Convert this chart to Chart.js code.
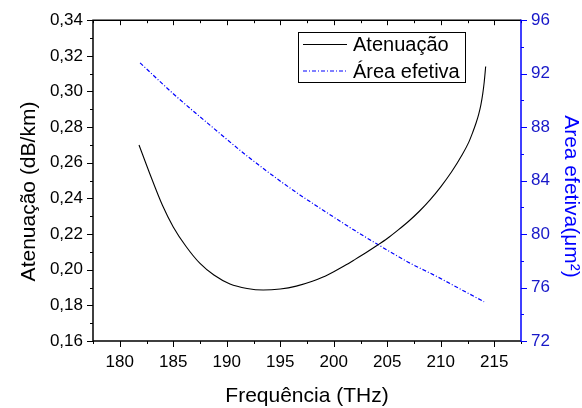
<!DOCTYPE html>
<html>
<head>
<meta charset="utf-8">
<script src="https://cdn.jsdelivr.net/npm/chart.js@4/dist/chart.umd.min.js"></script>
<style>
  html, body { margin: 0; padding: 0; background: #fff; }
  #wrap { width: 582px; height: 408px; }
</style>
</head>
<body>
<div id="wrap"><canvas id="c" width="582" height="408"></canvas></div>
<script>
// ---- data ----
const attFreq = [181.8, 182.8, 184.0, 185.0, 186.2, 187.5, 188.8, 190.3, 191.9, 193.4, 195.0, 196.5, 198.0, 199.0, 200.0, 201.0, 202.0, 203.0, 204.0, 205.0, 206.0, 207.0, 208.0, 209.0, 210.0, 211.0, 212.0, 212.6, 213.0, 213.3, 213.55, 213.75, 213.92, 214.06, 214.2];
const attValues = [0.2700, 0.2540, 0.2360, 0.2240, 0.2130, 0.2035, 0.1970, 0.1920, 0.1895, 0.1886, 0.1892, 0.1908, 0.1935, 0.1959, 0.1989, 0.2022, 0.2058, 0.2095, 0.2134, 0.2175, 0.2222, 0.2272, 0.2328, 0.2392, 0.2465, 0.2548, 0.2645, 0.2713, 0.2773, 0.2823, 0.2873, 0.2925, 0.2985, 0.3052, 0.3140];
const areaFreq = [181.9, 185.0, 188.8, 192.0, 195.95, 198.75, 201.5, 204.2, 207.0, 209.67, 212.0, 214.05];
const areaValues = [92.81, 90.50, 87.90, 85.78, 83.42, 81.92, 80.50, 79.18, 77.88, 76.81, 75.81, 74.94];

const xTickValues = [180, 185, 190, 195, 200, 205, 210, 215];
const attTickValues = [0.16, 0.18, 0.20, 0.22, 0.24, 0.26, 0.28, 0.30, 0.32, 0.34];
const areaTickValues = [72, 76, 80, 84, 88, 92, 96];

const seriesNames = ['Atenuação', 'Área efetiva'];
const axisTitles = { x: 'Frequência (THz)', left: 'Atenuação (dB/km)', right: 'Area efetiva(μm²)' };

const FONT = 'Liberation Sans, Arial, sans-serif';
const BLUE = '#0000ff';
const BLUE_LABEL = '#1818c8';
const DASH = [4, 2, 1, 2];

const attData = attFreq.map((f, i) => ({ x: f, y: attValues[i] }));
const areaData = areaFreq.map((f, i) => ({ x: f, y: areaValues[i] }));

const decor = {
  id: 'decor',
  afterDraw(chart) {
    const ctx = chart.ctx;
    const { left, right, top, bottom } = chart.chartArea;
    const sx = chart.scales.x, sy = chart.scales.y, sy1 = chart.scales.y1;
    ctx.save();
    ctx.lineWidth = 1;
    // x ticks (bottom outward, top inward)
    ctx.strokeStyle = '#000';
    ctx.beginPath();
    for (let k = 0; k <= 16; k++) {
      const v = sx.min + k * 2.5;
      const px = Math.round(sx.getPixelForValue(v)) + 0.5;
      const major = Math.abs((v / 5) - Math.round(v / 5)) < 1e-6;
      const len = major ? 6 : 3;
      ctx.moveTo(px, bottom); ctx.lineTo(px, bottom + len);
      ctx.moveTo(px, top); ctx.lineTo(px, top + (major ? 5 : 3));
    }
    // left ticks
    for (let k = 0; k <= 18; k++) {
      const v = sy.min + k * 0.01;
      const py = Math.round(sy.getPixelForValue(v)) + 0.5;
      const len = (k % 2 === 0) ? 6 : 3;
      ctx.moveTo(left, py); ctx.lineTo(left - len, py);
    }
    ctx.stroke();
    // right ticks
    ctx.strokeStyle = BLUE;
    ctx.beginPath();
    for (let k = 0; k <= 12; k++) {
      const v = sy1.min + k * 2;
      const py = Math.round(sy1.getPixelForValue(v)) + 0.5;
      const len = (k % 2 === 0) ? 6 : 3;
      ctx.moveTo(right, py); ctx.lineTo(right + len, py);
    }
    ctx.stroke();
    // frame
    ctx.lineWidth = 1.5;
    ctx.strokeStyle = '#000';
    ctx.beginPath();
    ctx.moveTo(right, top); ctx.lineTo(left, top); ctx.lineTo(left, bottom); ctx.lineTo(right, bottom);
    ctx.stroke();
    ctx.strokeStyle = BLUE;
    ctx.beginPath();
    ctx.moveTo(right, top - 0.75); ctx.lineTo(right, bottom + 0.75);
    ctx.stroke();

    // axis titles
    ctx.font = '21px ' + FONT;
    ctx.textBaseline = 'alphabetic';
    ctx.textAlign = 'center';
    ctx.fillStyle = '#000';
    ctx.fillText(axisTitles.x, (left + right) / 2, 401.5);
    ctx.save();
    ctx.translate(35, 191.5);
    ctx.rotate(-Math.PI / 2);
    ctx.fillText(axisTitles.left, 0, 0);
    ctx.restore();
    ctx.save();
    ctx.fillStyle = BLUE;
    ctx.translate(565, 196.5);
    ctx.rotate(Math.PI / 2);
    ctx.fillText(axisTitles.right, 0, 0);
    ctx.restore();

    // legend
    ctx.lineWidth = 1;
    ctx.strokeStyle = '#000';
    ctx.strokeRect(298.5, 32.5, 167, 50);
    ctx.lineWidth = 1.2;
    ctx.beginPath();
    ctx.moveTo(303, 44.5); ctx.lineTo(347, 44.5);
    ctx.stroke();
    ctx.strokeStyle = BLUE;
    ctx.setLineDash(DASH);
    ctx.beginPath();
    ctx.moveTo(303, 71); ctx.lineTo(347, 71);
    ctx.stroke();
    ctx.setLineDash([]);
    ctx.font = '20px ' + FONT;
    ctx.textAlign = 'left';
    ctx.fillStyle = '#000';
    ctx.fillText(seriesNames[0], 353, 51);
    ctx.fillText(seriesNames[1], 353, 78);
    ctx.restore();
  }
};

new Chart(document.getElementById('c'), {
  type: 'line',
  data: {
    datasets: [
      { label: seriesNames[0], data: attData, yAxisID: 'y', borderColor: '#000', borderWidth: 1.1,
        pointRadius: 0, fill: false, cubicInterpolationMode: 'monotone' },
      { label: seriesNames[1], data: areaData, yAxisID: 'y1', borderColor: BLUE, borderWidth: 1.2,
        borderDash: DASH, pointRadius: 0, fill: false, cubicInterpolationMode: 'monotone' }
    ]
  },
  options: {
    responsive: false,
    animation: false,
    events: [],
    layout: { padding: { top: 20, left: 0, right: 0, bottom: 0 } },
    plugins: { legend: { display: false }, tooltip: { enabled: false } },
    scales: {
      x: {
        type: 'linear', position: 'bottom', min: 177.5, max: 217.5,
        afterBuildTicks: (s) => { s.ticks = xTickValues.map(v => ({ value: v })); },
        afterFit: (s) => { s.height = 67; },
        grid: { display: false, drawTicks: false },
        border: { display: false },
        ticks: { color: '#000', font: { family: FONT, size: 17 }, padding: 11, maxRotation: 0, autoSkip: false,
                 callback: (v) => String(v) }
      },
      y: {
        type: 'linear', position: 'left', min: 0.16, max: 0.34,
        afterBuildTicks: (s) => { s.ticks = attTickValues.map(v => ({ value: v })); },
        afterFit: (s) => { s.width = 93; },
        grid: { display: false, drawTicks: false },
        border: { display: false },
        ticks: { color: '#000', font: { family: FONT, size: 17 }, padding: 10, autoSkip: false,
                 callback: (v) => Number(v).toFixed(2).replace('.', ',') }
      },
      y1: {
        type: 'linear', position: 'right', min: 72, max: 96,
        afterBuildTicks: (s) => { s.ticks = areaTickValues.map(v => ({ value: v })); },
        afterFit: (s) => { s.width = 61; },
        grid: { display: false, drawTicks: false },
        border: { display: false },
        ticks: { color: BLUE_LABEL, font: { family: FONT, size: 17 }, padding: 10, autoSkip: false,
                 callback: (v) => String(v) }
      }
    }
  },
  plugins: [decor]
});
</script>
</body>
</html>
